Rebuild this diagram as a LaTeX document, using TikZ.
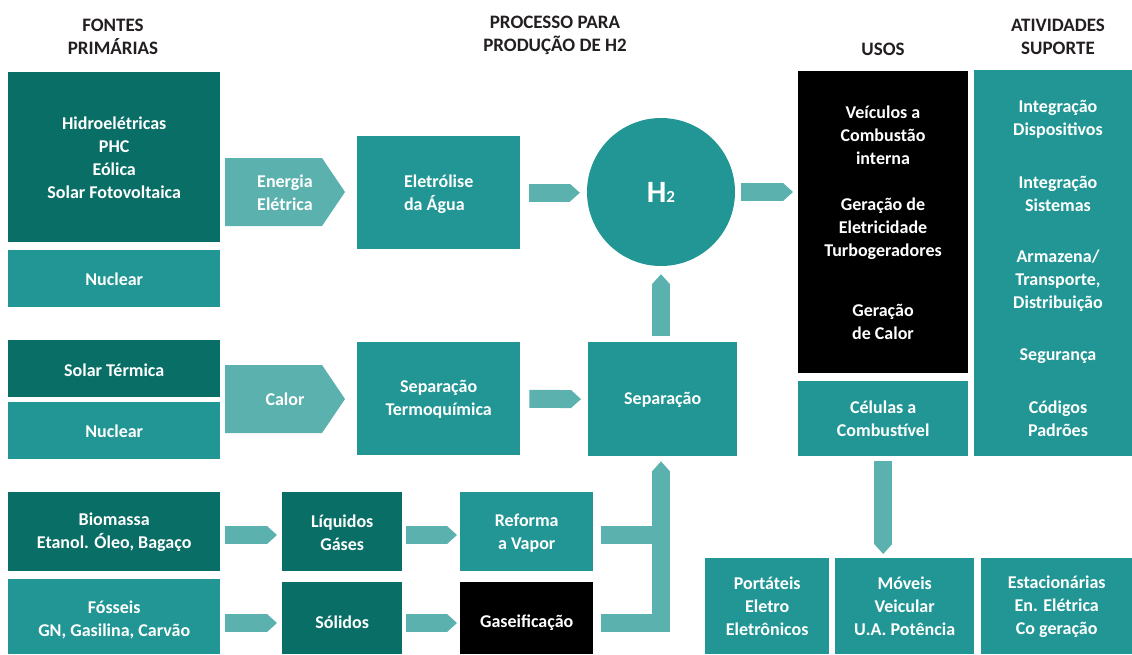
\documentclass[tikz,border=0pt]{standalone}
\usepackage{fontspec}
\setmainfont{Carlito}
\usetikzlibrary{arrows.meta}
\definecolor{dk}{HTML}{096E66}
\definecolor{md}{HTML}{219694}
\definecolor{lt}{HTML}{5BB1AD}
\definecolor{hd}{HTML}{231F20}
\newcommand{\dn}[2]{\raisebox{-#1}[\height][\depth]{#2}}
\begin{document}
\begin{tikzpicture}[x=1pt,y=-1pt,
 box/.style={anchor=north west, inner sep=0pt, text=white, align=center, font=\bfseries\fontsize{18}{23}\selectfont},
 dkbox/.style={box, fill=dk}, mdbox/.style={box, fill=md}, bkbox/.style={box, fill=black},
 txt/.style={text=white, align=center, font=\bfseries\fontsize{18}{23}\selectfont, inner sep=0pt},
 hdr/.style={text=hd, align=center, font=\bfseries\fontsize{19}{23}\selectfont, inner sep=0pt},
 conn/.style={draw=lt, line width=18pt, -{Triangle[width=18pt,length=10pt,line width=0pt]}},
 band/.style={draw=lt, line width=18pt},
 chev/.style={fill=lt}
]
\fill[white] (0,0) rectangle (1132,654);
\useasboundingbox (0,0) rectangle (1132,654);

% headers
\node[hdr] (hf) at (113,37) {FONTES\\PRIMÁRIAS};
\node[hdr] (hp) at (555,35.5) {PROCESSO PARA\\PRODUÇÃO DE H2};
\node[hdr] (hu) at (883,49) {USOS};
\node[hdr] (ha) at (1058,37) {ATIVIDADES\\SUPORTE};

% column 1
\node[dkbox, minimum width=212pt, minimum height=170pt] (hidro) at (8,72) {\dn{1pt}{Hidroelétricas}\\\dn{1pt}{PHC}\\\dn{1pt}{Eólica}\\\dn{1pt}{Solar Fotovoltaica}};
\node[mdbox, minimum width=212pt, minimum height=57pt] (nuc1) at (8,250) {\dn{1pt}{Nuclear}};
\node[dkbox, minimum width=212pt, minimum height=57pt] (solt) at (8,340) {\dn{2pt}{Solar Térmica}};
\node[mdbox, minimum width=212pt, minimum height=57pt] (nuc2) at (8,402) {\dn{1pt}{Nuclear}};
\node[dkbox, minimum width=212pt, minimum height=79pt] (bio) at (8,492) {Biomassa\\Etanol. Óleo, Bagaço};
\node[mdbox, minimum width=212pt, minimum height=75pt] (fos) at (8,579) {\dn{3pt}{Fósseis}\\\dn{3pt}{GN, Gasilina, Carvão}};

% chevrons
\fill[chev] (225,158) -- (322,158) -- (345,192) -- (322,226) -- (225,226) -- cycle;
\node[txt] (ee) at (285,193) {Energia\\Elétrica};
\fill[chev] (225,365) -- (322,365) -- (345,399) -- (322,433) -- (225,433) -- cycle;
\node[txt] (cal) at (285,399.5) {Calor};

% process
\node[mdbox, minimum width=163pt, minimum height=113pt, align=left] (elet) at (357,136) {\dn{1.5pt}{Eletrólise}\\\dn{1.5pt}{da Água}};
\node[mdbox, minimum width=163pt, minimum height=113pt] (sterm) at (357,342) {\dn{1pt}{Separação}\\\dn{1pt}{Termoquímica}};
\node[mdbox, minimum width=149pt, minimum height=114pt] (sep) at (588,342) {\dn{1pt}{Separação}};
\node[circle, fill=md, minimum size=148pt, inner sep=0pt, text=white, font=\bfseries] (h2) at (661,192) {\fontsize{31}{31}\selectfont H\fontsize{17}{17}\selectfont 2};
\node[dkbox, minimum width=120pt, minimum height=79pt] (liq) at (282,492) {\dn{1pt}{Líquidos}\\\dn{1pt}{Gáses}};
\node[mdbox, minimum width=133pt, minimum height=79pt] (ref) at (460,492) {\dn{1pt}{Reforma}\\\dn{1pt}{a Vapor}};
\node[dkbox, minimum width=120pt, minimum height=72pt] (sol) at (282,582) {\dn{4pt}{Sólidos}};
\node[bkbox, minimum width=133pt, minimum height=72pt] (gas) at (460,582) {\dn{4pt}{Gaseificação}};

% usos
\node[bkbox, minimum width=170pt, minimum height=302pt] (usos) at (798,71) {};
\node[txt] (u1) at (883,135) {Veículos a\\Combustão\\interna};
\node[txt] (u2) at (883,229) {Geração de\\Eletricidade\\Turbogeradores};
\node[txt] (u3) at (883,321.5) {Geração\\de Calor};
\node[mdbox, minimum width=170pt, minimum height=75pt] (cel) at (798,381) {Células a\\Combustível};

% atividades
\node[mdbox, minimum width=158pt, minimum height=386pt] (ativ) at (974,70) {};
\node[txt] (a1) at (1058,119.5) {Integração\\Dispositivos};
\node[txt] (a2) at (1058,193.5) {Integração\\Sistemas};
\node[txt] (a3) at (1058,281) {Armazena/\\Transporte,\\Distribuição};
\node[txt] (a4) at (1058,356) {Segurança};
\node[txt] (a5) at (1058,418.5) {Códigos\\Padrões};

% bottom
\node[mdbox, minimum width=124pt, minimum height=96pt] (port) at (705,558) {Portáteis\\Eletro\\Eletrônicos};
\node[mdbox, minimum width=139pt, minimum height=96pt] (mov) at (835,558) {Móveis\\Veicular\\U.A. Potência};
\node[mdbox, minimum width=151pt, minimum height=96pt] (est) at (981,558) {Estacionárias\\En. Elétrica\\Co geração};

% connectors
\coordinate (r1) at (0,535);
\coordinate (r2) at (0,623);
\draw[conn, shorten <=9pt, shorten >=7pt] (elet.east) -- (elet.east -| h2.west);
\draw[conn, shorten <=6pt, shorten >=5pt] (h2.east) -- (h2.east -| usos.west);
\draw[conn, shorten <=9pt, shorten >=7pt] (sterm.east) -- (sep.west);
\draw[conn, shorten <=6pt, shorten >=8pt] (h2.south |- sep.north) -- (h2.south);
\draw[conn, shorten <=5pt, shorten >=5pt] (bio.east |- r1) -- (liq.west |- r1);
\draw[conn, shorten <=4pt, shorten >=3pt] (liq.east |- r1) -- (ref.west |- r1);
\draw[conn, shorten <=5pt, shorten >=5pt] (fos.east |- r2) -- (sol.west |- r2);
\draw[conn, shorten <=4pt, shorten >=3pt] (sol.east |- r2) -- (gas.west |- r2);
\draw[band, shorten <=8pt] (ref.east |- r1) -- (h2.south |- r1);
\draw[conn, shorten <=8pt, shorten >=5pt] (gas.east |- r2) -| (sep.south -| h2.south);
\draw[conn, shorten <=5pt, shorten >=4pt] (cel.south) -- (cel.south |- mov.north);
\end{tikzpicture}
\end{document}
